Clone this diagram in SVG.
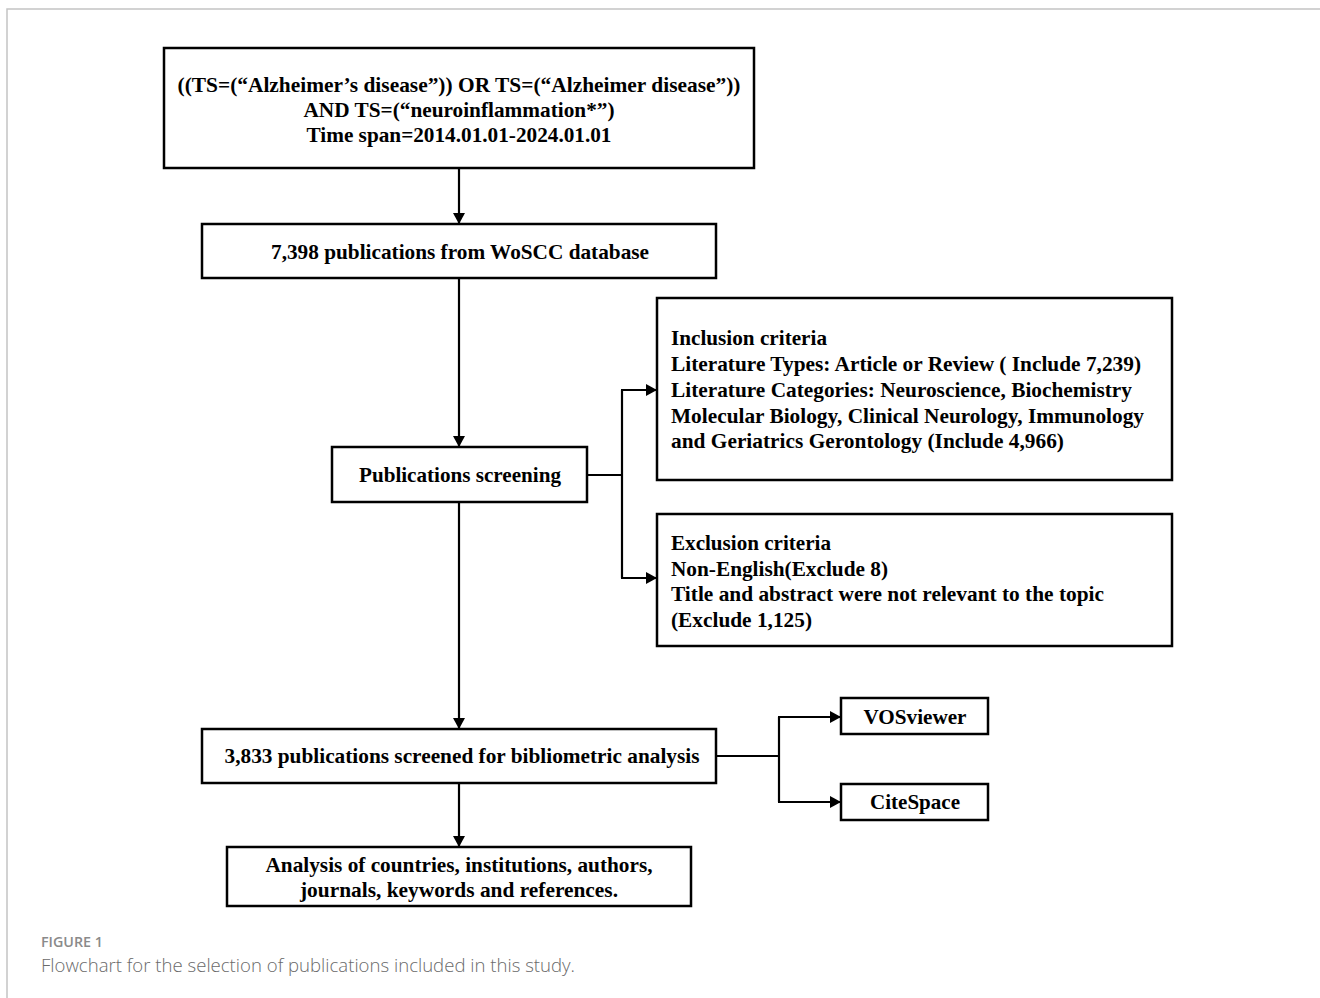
<svg xmlns="http://www.w3.org/2000/svg" width="1320" height="998" viewBox="0 0 1320 998">
<defs>
<marker id="ah" viewBox="0 0 11 12" refX="11" refY="6" markerWidth="11" markerHeight="12" markerUnits="userSpaceOnUse" orient="auto">
<path d="M0,0 L11,6 L0,12 z" fill="#000"/>
</marker>
<style>
.box{fill:#fff;stroke:#000;stroke-width:2.5}
.t{font-family:"Liberation Serif","Times New Roman",serif;font-weight:bold;font-size:21.5px;fill:#000}
.c{text-anchor:middle}
.ln{fill:none;stroke:#000;stroke-width:2.2}
.frame{stroke:#c4c4c4;stroke-width:1.5;fill:none}
.cap1{font-family:"Open Sans","Noto Sans",sans-serif;font-weight:600;font-size:14.5px;fill:#8a8a8a}
.cap2{font-family:"Open Sans","Noto Sans",sans-serif;font-weight:300;font-size:18.5px;fill:#6a6a6a}
</style>
</defs>
<rect width="1320" height="998" fill="#fff"/>
<path class="frame" d="M7,998 L7,9 L1320,9"/>

<g id="connectors">
<line class="ln" x1="459" y1="168" x2="459" y2="224" marker-end="url(#ah)"/>
<line class="ln" x1="459" y1="278" x2="459" y2="447" marker-end="url(#ah)"/>
<line class="ln" x1="459" y1="502" x2="459" y2="729" marker-end="url(#ah)"/>
<line class="ln" x1="459" y1="783" x2="459" y2="847" marker-end="url(#ah)"/>
<polyline class="ln" points="587,475 622,475"/>
<polyline class="ln" points="622,390 622,578"/>
<line class="ln" x1="621" y1="390" x2="657" y2="390" marker-end="url(#ah)"/>
<line class="ln" x1="621" y1="578" x2="657" y2="578" marker-end="url(#ah)"/>
<polyline class="ln" points="716,756 779,756"/>
<polyline class="ln" points="779,717 779,802"/>
<line class="ln" x1="778" y1="717" x2="841" y2="717" marker-end="url(#ah)"/>
<line class="ln" x1="778" y1="802" x2="841" y2="802" marker-end="url(#ah)"/>
</g>

<g id="query">
<rect class="box" x="164" y="48" width="590" height="120"/>
<text class="t c" x="459" y="92" textLength="563" lengthAdjust="spacingAndGlyphs">((TS=(“Alzheimer’s disease”)) OR TS=(“Alzheimer disease”))</text>
<text class="t c" x="459" y="117" textLength="311" lengthAdjust="spacingAndGlyphs">AND TS=(“neuroinflammation*”)</text>
<text class="t c" x="459" y="142" textLength="305" lengthAdjust="spacingAndGlyphs">Time span=2014.01.01-2024.01.01</text>
</g>

<g id="woscc">
<rect class="box" x="202" y="224" width="514" height="54"/>
<text class="t c" x="460" y="259" textLength="378" lengthAdjust="spacingAndGlyphs">7,398 publications from WoSCC database</text>
</g>

<g id="screening">
<rect class="box" x="332" y="447" width="255" height="55"/>
<text class="t c" x="460" y="482" textLength="202" lengthAdjust="spacingAndGlyphs">Publications screening</text>
</g>

<g id="inclusion">
<rect class="box" x="657" y="298" width="515" height="182"/>
<text class="t" x="671" y="345" textLength="156" lengthAdjust="spacingAndGlyphs">Inclusion criteria</text>
<text class="t" x="671" y="371" textLength="470" lengthAdjust="spacingAndGlyphs">Literature Types: Article or Review ( Include 7,239)</text>
<text class="t" x="671" y="397" textLength="461" lengthAdjust="spacingAndGlyphs">Literature Categories: Neuroscience, Biochemistry</text>
<text class="t" x="671" y="423" textLength="473" lengthAdjust="spacingAndGlyphs">Molecular Biology, Clinical Neurology, Immunology</text>
<text class="t" x="671" y="448" textLength="393" lengthAdjust="spacingAndGlyphs">and Geriatrics Gerontology (Include 4,966)</text>
</g>

<g id="exclusion">
<rect class="box" x="657" y="514" width="515" height="132"/>
<text class="t" x="671" y="550" textLength="160" lengthAdjust="spacingAndGlyphs">Exclusion criteria</text>
<text class="t" x="671" y="576" textLength="217" lengthAdjust="spacingAndGlyphs">Non-English(Exclude 8)</text>
<text class="t" x="671" y="601" textLength="433" lengthAdjust="spacingAndGlyphs">Title and abstract were not relevant to the topic</text>
<text class="t" x="671" y="627" textLength="141" lengthAdjust="spacingAndGlyphs">(Exclude 1,125)</text>
</g>

<g id="screened">
<rect class="box" x="202" y="729" width="514" height="54"/>
<text class="t c" x="462" y="763" textLength="475" lengthAdjust="spacingAndGlyphs">3,833 publications screened for bibliometric analysis</text>
</g>

<g id="vosviewer">
<rect class="box" x="841" y="698" width="147" height="36"/>
<text class="t c" x="915" y="724" textLength="103" lengthAdjust="spacingAndGlyphs">VOSviewer</text>
</g>

<g id="citespace">
<rect class="box" x="841" y="784" width="147" height="36"/>
<text class="t c" x="915" y="809" textLength="90" lengthAdjust="spacingAndGlyphs">CiteSpace</text>
</g>

<g id="analysis">
<rect class="box" x="227" y="847" width="464" height="59"/>
<text class="t c" x="459" y="872" textLength="387" lengthAdjust="spacingAndGlyphs">Analysis of countries, institutions, authors,</text>
<text class="t c" x="459" y="897" textLength="318" lengthAdjust="spacingAndGlyphs">journals, keywords and references.</text>
</g>

<text class="cap1" x="41" y="947" textLength="62" lengthAdjust="spacingAndGlyphs">FIGURE 1</text>
<text class="cap2" x="41" y="972" textLength="534" lengthAdjust="spacingAndGlyphs">Flowchart for the selection of publications included in this study.</text>
</svg>
